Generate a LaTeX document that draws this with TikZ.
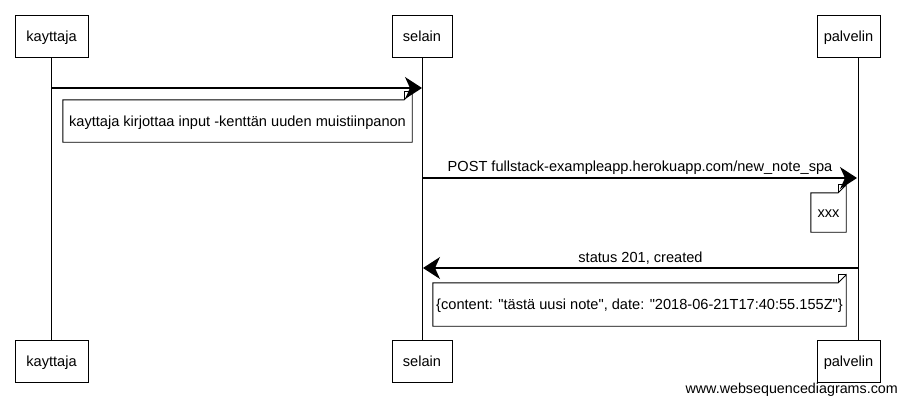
\documentclass[tikz,border=0pt]{standalone}
\usepackage{fontspec}
\setmainfont{Liberation Sans}
\usetikzlibrary{arrows.meta}
\begin{document}
\begin{tikzpicture}[x=1pt,y=-1pt,
  actor/.style={draw,line width=0.9pt,minimum height=42pt,inner sep=0pt,text height=10.5pt,text depth=0pt,font=\fontsize{14.6}{17}\selectfont},
  notebox/.style={inner sep=0pt,minimum height=42pt,text height=10.5pt,text depth=0pt,font=\fontsize{14.6}{17}\selectfont},
  life/.style={line width=0.8pt},
  msg/.style={line width=1.2pt,-{Stealth[length=17pt,width=22pt,inset=5pt]}},
  lbl/.style={font=\fontsize{14.6}{17}\selectfont,inner sep=0pt},
  fold/.style={line width=0.9pt}]
\useasboundingbox (0,0) rectangle (907,405);
% actors
\node[actor,minimum width=73pt] (k1) at (51.5,36) {kayttaja};
\node[actor,minimum width=60pt] (s1) at (422,36) {selain};
\node[actor,minimum width=63pt] (p1) at (848.5,36) {palvelin};
\node[actor,minimum width=73pt] (k2) at (51.5,361) {kayttaja};
\node[actor,minimum width=60pt] (s2) at (422,361) {selain};
\node[actor,minimum width=63pt] (p2) at (848.5,361) {palvelin};
\draw[life] (k1) -- (k2);
\draw[life] (s1) -- (s2);
\draw[life] (p1.south -| 858,0) -- (p2.north -| 858,0);
% message 1
\coordinate (a1) at (52,88);
\coordinate (b1) at (422,88);
\draw[msg] (a1) -- (b1);
\node[notebox,minimum width=349pt] (n1) at (237.5,121) {kayttaja kirjottaa input -kenttän uuden muistiinpanon};
\draw[fold] (n1.south west) -- (n1.north west) -- ([xshift=-8pt]n1.north east) -- ([yshift=8pt]n1.north east) -- (n1.south east) -- cycle;
\draw[fold] ([xshift=-8pt]n1.north east) -- ([xshift=-8pt,yshift=8pt]n1.north east) -- ([yshift=8pt]n1.north east);
% message 2
\coordinate (a2) at (423,178);
\coordinate (b2) at (857,178);
\draw[msg] (a2) -- node[lbl,above=3pt] (l2) {POST fullstack-exampleapp.herokuapp.com/new\_note\_spa} (b2);
\node[notebox,minimum width=35pt,minimum height=39pt] (n2) at (828.5,212.5) {xxx};
\draw[fold] (n2.south west) -- (n2.north west) -- ([xshift=-8pt]n2.north east) -- ([yshift=8pt]n2.north east) -- (n2.south east) -- cycle;
\draw[fold] ([xshift=-8pt]n2.north east) -- ([xshift=-8pt,yshift=8pt]n2.north east) -- ([yshift=8pt]n2.north east);
% message 3
\coordinate (a3) at (858,268);
\coordinate (b3) at (423,268);
\draw[msg] (a3) -- node[lbl,above=3pt] (l3) {status 201, created} (b3);
\node[notebox,minimum width=413pt,minimum height=43pt] (n3) at (639.5,304.5) {\{content: \textquotedbl tästä uusi note\textquotedbl, date: \textquotedbl 2018-06-21T17:40:55.155Z\textquotedbl\}};
\draw[fold] (n3.south west) -- (n3.north west) -- ([xshift=-8pt]n3.north east) -- ([yshift=8pt]n3.north east) -- (n3.south east) -- cycle;
\draw[fold] ([xshift=-8pt]n3.north east) -- ([xshift=-8pt,yshift=8pt]n3.north east) -- ([yshift=8pt]n3.north east);
% watermark
\node[lbl,anchor=east,font=\fontsize{14.3}{17}\selectfont] (wm) at (898,390) {www.websequencediagrams.com};
\end{tikzpicture}
\end{document}
